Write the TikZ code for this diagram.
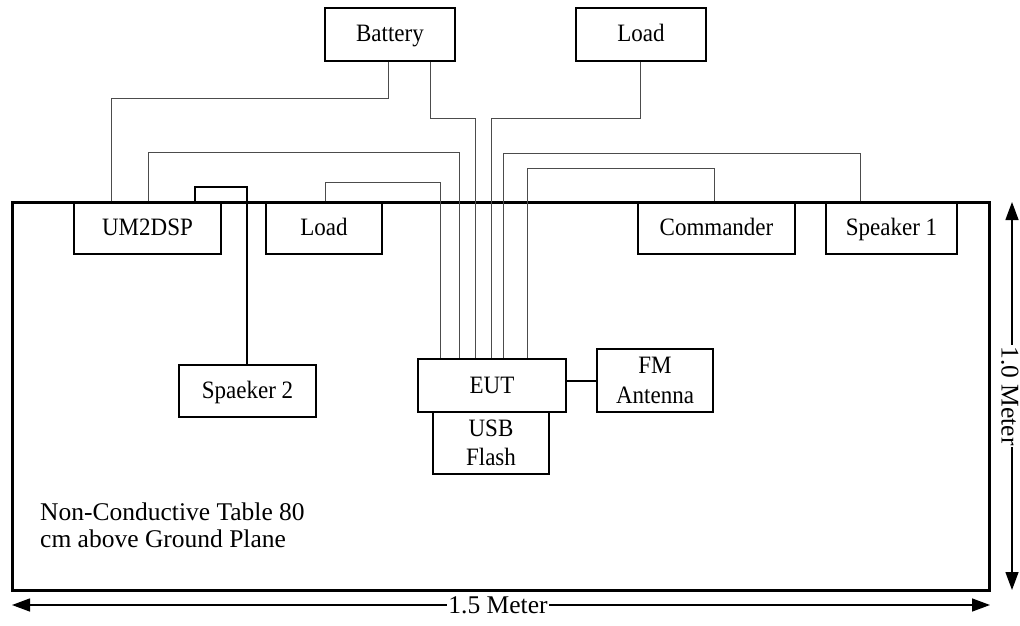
\documentclass[tikz,border=0pt]{standalone}
\usepackage{fontspec}
\setmainfont{Liberation Serif}
\newfontfamily\boxfont{Liberation Serif}[FakeStretch=0.92]
\usetikzlibrary{arrows.meta}
\begin{document}
\begin{tikzpicture}[x=1pt,y=-1pt,
  box/.style={draw=black,line width=1.4pt,rectangle,inner sep=0pt,
    minimum width=#1,minimum height=53pt,align=center,
    font=\boxfont\fontsize{25}{29.5}\selectfont},
  box/.default=130pt,
  oneline/.style={text height=17pt,text depth=2pt},
  wire/.style={draw=black!70,line width=0.9pt},
  thickwire/.style={draw=black,line width=1.8pt},
  dim/.style={draw=black,line width=1.4pt,{Triangle[length=18pt,width=13pt]}-{Triangle[length=18pt,width=13pt]}},
  dimlabel/.style={fill=white,inner sep=0pt,font=\fontsize{25.5}{28}\selectfont}
]
\useasboundingbox (0,0) rectangle (1020,626);
% top boxes
\node[box=130pt,oneline] (bat) at (390,34.5) {Battery};
\node[box=130pt,oneline] (loadtop) at (641,34.5) {Load};
% table boxes
\node[box=147pt,minimum height=52pt,oneline] (um) at (147.5,228) {UM2DSP};
\node[box=116pt,minimum height=52pt,oneline] (loadt) at (324,228) {Load};
\node[box=157pt,minimum height=52pt,oneline] (cmd) at (716.5,228) {Commander};
\node[box=131pt,minimum height=52pt,oneline] (spk1) at (891.5,228) {Speaker 1};
\node[box=137pt,minimum height=52pt,oneline] (spk2) at (247.5,391) {Spaeker 2};
\node[box=148pt,minimum height=53pt,oneline] (eut) at (492,385.5) {EUT};
\node[box=116pt,minimum height=62pt] (usb) at (491,443) {USB\\Flash};
\node[box=116pt,minimum height=63pt] (fm) at (655,380.5) {FM\\Antenna};
% table
\draw[line width=3pt,line join=miter] (12,202) rectangle (989,590);
\node[anchor=north west,align=left,inner sep=0pt,font=\fontsize{25.5}{27}\selectfont] (tabletext) at (40,502.5) {Non-Conductive Table 80\\cm above Ground Plane};
% wires
\draw[wire] (bat.south -| 388,0) -- (388,98) -- (111,98) -- (um.north -| 111,0);
\draw[wire] (bat.south -| 430,0) -- (430,118) -- (475,118) -- (eut.north -| 475,0);
\draw[wire] (loadtop.south -| 640,0) -- (640,118) -- (491,118) -- (eut.north -| 491,0);
\draw[wire] (um.north -| 148,0) -- (148,152) -- (459,152) -- (eut.north -| 459,0);
\draw[wire] (loadt.north -| 325,0) -- (325,182) -- (440,182) -- (eut.north -| 440,0);
\draw[wire] (spk1.north -| 860,0) -- (860,153) -- (503,153) -- (eut.north -| 503,0);
\draw[wire] (cmd.north -| 714,0) -- (714,168) -- (527,168) -- (eut.north -| 527,0);
\draw[thickwire] (um.north -| 195,0) -- (195,187) -- (247,187) -- (spk2.north -| 247,0);
\draw[line width=1.4pt] (eut.east |- 0,381) -- (fm.west |- 0,381);
% dimensions
\coordinate (hl) at (12,605);
\coordinate (hr) at (990,605);
\draw[dim] (hl) -- (hr);
\node[dimlabel,inner xsep=1pt] (hlab) at (498,605) {1.5 Meter};
\coordinate (vt) at (1012,202);
\coordinate (vb) at (1012,590);
\draw[dim] (vt) -- (vb);
\node[dimlabel,inner xsep=1pt,rotate=-90] (vlab) at (1010,396) {1.0 Meter};
\end{tikzpicture}
\end{document}
